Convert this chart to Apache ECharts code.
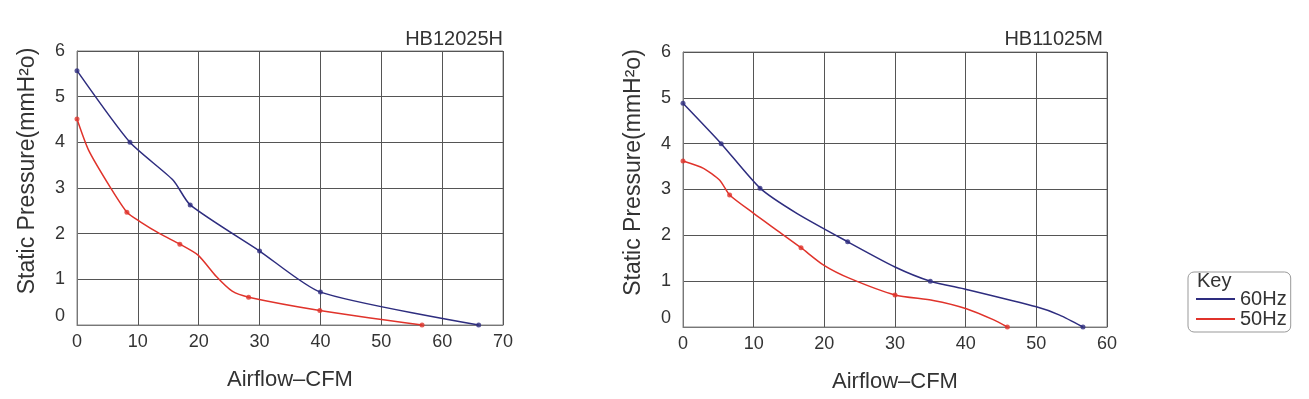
<!DOCTYPE html>
<html>
<head>
<meta charset="utf-8">
<script src="https://cdn.jsdelivr.net/npm/echarts@6/dist/echarts.min.js"></script>
<style>
  html, body { margin: 0; padding: 0; background: #fff; }
  #chart { width: 1309px; height: 399px; }
</style>
</head>
<body>
<div id="chart"></div>
<script>
// measured points [airflow CFM, static pressure mmH2O] (the dots)
var hb12025h60 = [[0, 5.57], [8.7, 4.0], [18.6, 2.63], [30, 1.62], [40, 0.72], [66, 0]];
var hb12025h50 = [[0, 4.51], [8.2, 2.47], [16.9, 1.77], [28.2, 0.61], [39.9, 0.32], [56.7, 0]];
var hb11025m60 = [[0, 4.88], [5.4, 4.0], [10.9, 3.03], [23.3, 1.86], [35, 1.0], [56.6, 0]];
var hb11025m50 = [[0, 3.62], [6.6, 2.88], [16.7, 1.73], [30, 0.70], [45.9, 0]];

// extra points
var hb12025h60Bend = [[15.8, 3.17]];
var hb12025h50Bend = [[1.9, 3.83], [5.4, 3.03], [10.4, 2.26], [13.6, 2.0], [19.9, 1.53], [22.9, 1.06], [25.5, 0.74]];
var hb11025m60Bend = [[16.1, 2.48], [30, 1.31], [40.1, 0.82], [50, 0.44], [53.3, 0.26]];
var hb11025m50Bend = [[2.9, 3.46], [5.2, 3.2], [10, 2.48], [13.3, 2.11], [19.9, 1.35], [23.6, 1.06], [35.4, 0.58], [40.1, 0.40], [43.9, 0.16]];

var titles = ['HB12025H', 'HB11025M'];
var xMax = [70, 60];
var seriesNames = ['60Hz', '50Hz'];

var FONT = 'Liberation Sans, Arial, sans-serif';
var TXT = '#333';
var BLUE = '#2e2d7f';
var RED = '#e0332b';

var chart = echarts.init(document.getElementById('chart'));

function curve (dots, bend) {
  return dots.concat(bend).sort(function (a, b) { return a[0] - b[0]; });
}

function xAxisFor (i) {
  return {
    type: 'value', gridIndex: i, min: 0, max: xMax[i], interval: 10,
    name: 'Airflow\u2013CFM', nameLocation: 'middle', nameGap: 44,
    nameTextStyle: { fontFamily: FONT, fontSize: 22, color: TXT },
    axisLine: { lineStyle: { color: '#777' } },
    axisTick: { show: false },
    axisLabel: { fontFamily: FONT, fontSize: 18, color: TXT, margin: 8 },
    splitLine: { show: true, lineStyle: { color: '#555', width: 1 } }
  };
}

function yAxisFor (i) {
  return {
    type: 'value', gridIndex: i, min: 0, max: 6, interval: 1,
    name: 'Static Pressure(mmH\u00b2o)', nameLocation: 'middle', nameGap: 38,
    nameTextStyle: { fontFamily: FONT, fontSize: 23, color: TXT, padding: [0, 0, 0, 34] },
    axisLine: { show: true, lineStyle: { color: '#777' } },
    axisTick: { show: false },
    axisLabel: {
      fontFamily: FONT, fontSize: 18, color: TXT, margin: 12,
      formatter: function (v) { return v === 0 ? '{z|0}' : String(v); },
      rich: { z: { fontFamily: FONT, fontSize: 18, color: TXT, padding: [0, 0, 18, 0] } }
    },
    splitLine: { show: true, lineStyle: { color: '#555', width: 1 } }
  };
}

function lineSeries (name, data, i, color) {
  return {
    name: name, type: 'line', xAxisIndex: i, yAxisIndex: i,
    data: data, smooth: 0.22,
    showSymbol: false,
    lineStyle: { color: color, width: 1.5 },
    itemStyle: { color: color },
    emphasis: { disabled: true }
  };
}

function dotSeries (name, data, i, color) {
  return {
    name: name, type: 'scatter', xAxisIndex: i, yAxisIndex: i,
    data: data, symbol: 'circle', symbolSize: 5,
    itemStyle: { color: color },
    emphasis: { disabled: true }
  };
}

var option = {
  animation: false,
  title: [
    { text: titles[0], right: 801, top: 24, textStyle: { fontFamily: FONT, fontSize: 20, fontWeight: 'normal', color: TXT } },
    { text: titles[1], right: 201, top: 24, textStyle: { fontFamily: FONT, fontSize: 20, fontWeight: 'normal', color: TXT } }
  ],
  grid: [
    { left: 77, width: 426, top: 51, height: 274, show: true, borderColor: '#888', borderWidth: 1 },
    { left: 683, width: 424, top: 52, height: 275, show: true, borderColor: '#888', borderWidth: 1 }
  ],
  legend: {
    data: seriesNames, orient: 'vertical', left: 1188, top: 272,
    padding: [17, 4, 3, 8], itemGap: 0,
    itemWidth: 39, itemHeight: 2, icon: 'rect',
    borderColor: '#999', borderWidth: 1, borderRadius: 6,
    textStyle: { fontFamily: FONT, fontSize: 20, lineHeight: 19, color: TXT },
    selectedMode: false
  },
  graphic: [
    { type: 'text', left: 1197, top: 271, style: { text: 'Key', fontFamily: FONT, fontSize: 20, fill: TXT } }
  ],
  xAxis: [xAxisFor(0), xAxisFor(1)],
  yAxis: [yAxisFor(0), yAxisFor(1)],
  series: [
    lineSeries(seriesNames[0], curve(hb12025h60, hb12025h60Bend), 0, BLUE),
    lineSeries(seriesNames[1], curve(hb12025h50, hb12025h50Bend), 0, RED),
    lineSeries(seriesNames[0], curve(hb11025m60, hb11025m60Bend), 1, BLUE),
    lineSeries(seriesNames[1], curve(hb11025m50, hb11025m50Bend), 1, RED),
    dotSeries(seriesNames[0], hb12025h60, 0, BLUE),
    dotSeries(seriesNames[1], hb12025h50, 0, RED),
    dotSeries(seriesNames[0], hb11025m60, 1, BLUE),
    dotSeries(seriesNames[1], hb11025m50, 1, RED)
  ]
};

chart.setOption(option);
</script>
</body>
</html>
